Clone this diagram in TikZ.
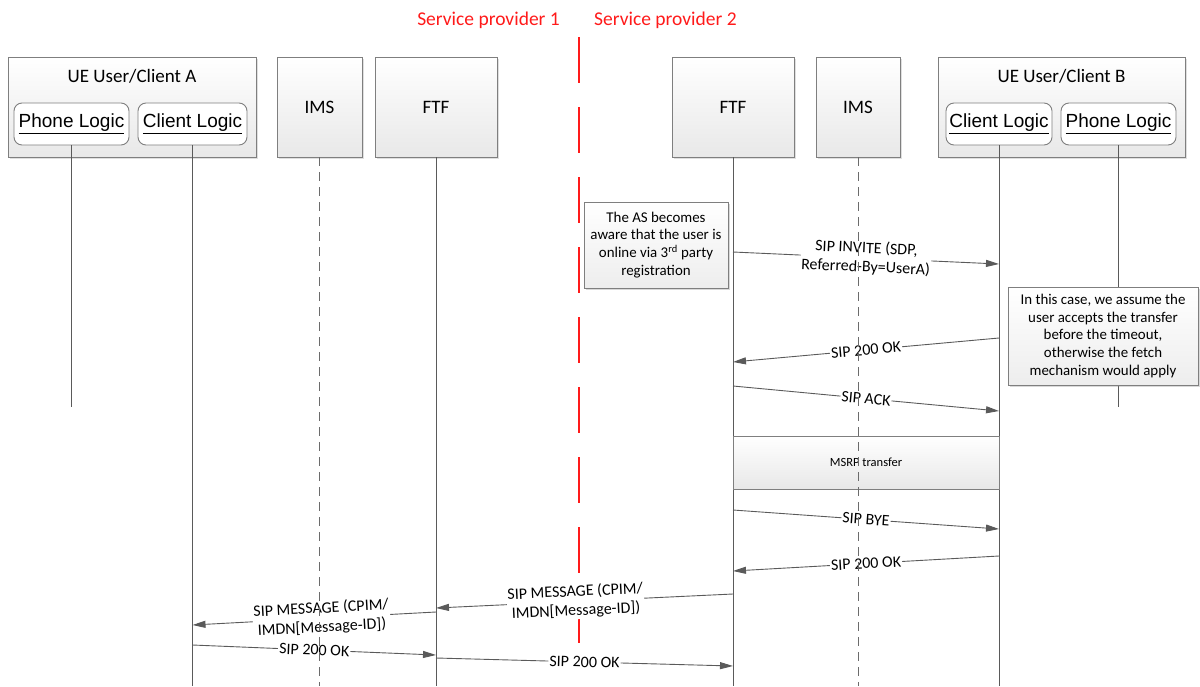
\documentclass[tikz,border=0pt]{standalone}
\usepackage{fontspec}
\setmainfont{Carlito}
\newfontfamily\arialfont{Liberation Sans}
\usetikzlibrary{arrows.meta,shadows}
\definecolor{ln}{HTML}{5A5A5A}
\definecolor{bd}{HTML}{7F7F7F}
\definecolor{spred}{HTML}{FF1A1A}
\tikzset{
  actor/.style={draw=bd, line width=0.9pt, top color=white, bottom color=black!9,
    drop shadow={shadow xshift=2pt, shadow yshift=-2pt, opacity=0.25},
    font=\fontsize{19}{22}\selectfont, inner sep=0pt},
  logic/.style={draw=bd, line width=0.9pt, fill=white, rounded corners=8pt,
    font=\arialfont\fontsize{19}{22}\selectfont, inner sep=0pt},
  life/.style={draw=ln, line width=0.9pt},
  imslife/.style={draw=ln!90, line width=0.9pt, dash pattern=on 9pt off 6pt},
  msg/.style={draw=ln, line width=0.9pt, -{Triangle[length=13pt,width=7pt]}},
  lbl/.style={fill=white, inner sep=1pt, align=center, sloped,
    font=\fontsize{16}{19}\selectfont},
  note/.style={draw=bd, line width=0.9pt, top color=white, bottom color=black!7,
    drop shadow={shadow xshift=2pt, shadow yshift=-2pt, opacity=0.3},
    align=center, inner sep=0pt, font=\fontsize{14.9}{17.8}\selectfont},
  sp/.style={text=spred, font=\fontsize{19.5}{22}\selectfont, inner sep=0pt}
}
\begin{document}
\begin{tikzpicture}[x=1pt,y=-1pt]
\useasboundingbox (0,0) rectangle (1200,686);

% service providers
\node[sp, anchor=east] (sp1) at (560,20) {Service provider 1};
\node[sp, anchor=west] (sp2) at (594,20) {Service provider 2};

% actor boxes
\node[actor, minimum width=248, minimum height=100] (ueA) at (132,107) {};
\node[font=\fontsize{19}{22}\selectfont, inner sep=0pt] (ueAt) at (132,76) {UE User/Client A};
\node[logic, minimum width=115, minimum height=42] (phA) at (71.5,124) {\underline{Phone Logic}};
\node[logic, minimum width=109, minimum height=42] (clA) at (192.5,124) {\underline{Client Logic}};
\node[actor, minimum width=85, minimum height=100] (imsA) at (319.5,107) {IMS};
\node[actor, minimum width=122, minimum height=100] (ftfA) at (436,107) {FTF};
\node[actor, minimum width=122, minimum height=100] (ftfB) at (733,107) {FTF};
\node[actor, minimum width=84, minimum height=100] (imsB) at (858,107) {IMS};
\node[actor, minimum width=247, minimum height=100] (ueB) at (1061.5,107) {};
\node[font=\fontsize{19}{22}\selectfont, inner sep=0pt] (ueBt) at (1061.5,76) {UE User/Client B};
\node[logic, minimum width=106, minimum height=42] (clB) at (999,124) {\underline{Client Logic}};
\node[logic, minimum width=115, minimum height=42] (phB) at (1118.5,124) {\underline{Phone Logic}};

% lifeline ends
\coordinate (phAe) at (71.5,407);
\coordinate (clAe) at (192.5,686);
\coordinate (imsAe) at (319.5,686);
\coordinate (ftfAe) at (436,686);
\coordinate (ftfBe) at (733,686);
\coordinate (imsBe) at (858,686);
\coordinate (clBe) at (999,686);
\coordinate (phBe) at (1118.5,407);

% red separator
\coordinate (rs) at (579,37);
\coordinate (re) at (579,650);
\draw[spred, line width=2.6pt, dash pattern=on 46pt off 24pt] (rs) -- (re);

% solid lifelines
\draw[life] (phA.south) -- (phAe);
\draw[life] (clA.south) -- (clAe);
\draw[life] (ftfA.south) -- (ftfAe);
\draw[life] (ftfB.south) -- (ftfBe);
\draw[life] (clB.south) -- (clBe);
\draw[life] (phB.south) -- (phBe);

% notes
\node[note, minimum width=144, minimum height=86] (noteA) at (656,245)
  {The AS becomes\\aware that the user is\\online via 3\textsuperscript{rd} party\\registration};
\node[note, minimum width=190, minimum height=98] (noteB) at (1103,336)
  {In this case, we assume the\\user accepts the transfer\\before the timeout,\\otherwise the fetch\\mechanism would apply};

% message anchor points
\coordinate (m1s) at (733,252); \coordinate (m1e) at (999,264);
\coordinate (m2s) at (999,338); \coordinate (m2e) at (733,362);
\coordinate (m3s) at (733,386); \coordinate (m3e) at (999,411);
\coordinate (m4s) at (733,510); \coordinate (m4e) at (999,529);
\coordinate (m5s) at (999,556); \coordinate (m5e) at (733,571);
\coordinate (m6s) at (733,594); \coordinate (m6e) at (436,608);
\coordinate (m7s) at (436,612); \coordinate (m7e) at (192.5,625);
\coordinate (m8s) at (192.5,645); \coordinate (m8e) at (436,655);
\coordinate (m9s) at (436,658); \coordinate (m9e) at (733,666);

\draw[msg] (m1s) -- node[lbl] {SIP INVITE (SDP,\\Referred-By=UserA)} (m1e);
\draw[msg] (m2s) -- node[lbl] {SIP 200 OK} (m2e);
\draw[msg] (m3s) -- node[lbl] {SIP ACK} (m3e);
\draw[msg] (m4s) -- node[lbl] {SIP BYE} (m4e);
\draw[msg] (m5s) -- node[lbl] {SIP 200 OK} (m5e);
\draw[msg] (m6s) -- node[lbl, pos=0.53] {SIP MESSAGE (CPIM/\\IMDN[Message-ID])} (m6e);
\draw[msg] (m7s) -- node[lbl, pos=0.47] {SIP MESSAGE (CPIM/\\IMDN[Message-ID])} (m7e);
\draw[msg] (m8s) -- node[lbl] {SIP 200 OK} (m8e);
\draw[msg] (m9s) -- node[lbl] {SIP 200 OK} (m9e);

% MSRP transfer box
\node[draw=bd, line width=0.9pt, top color=white, bottom color=black!9,
  minimum width=266, minimum height=53, inner sep=0pt,
  font=\fontsize{12.5}{14}\selectfont] (msrp) at (866,462.5) {MSRP transfer};

% dashed IMS lifelines on top
\draw[imslife] (imsA.south) -- (imsAe);
\draw[imslife] (imsB.south) -- (imsBe);
\end{tikzpicture}
\end{document}
